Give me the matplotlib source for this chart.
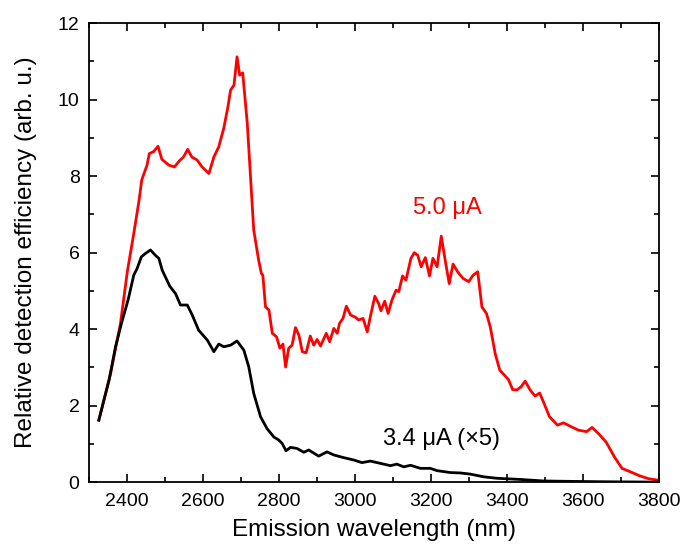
import matplotlib
matplotlib.use('Agg')
import matplotlib.pyplot as plt
from matplotlib.ticker import MultipleLocator

plt.rcParams['font.family'] = ['Liberation Sans', 'DejaVu Sans']

# 5.0 uA curve (red)
wl_red = [2325, 2356, 2382, 2400, 2417, 2431, 2438, 2452, 2458, 2469, 2481, 2491,
          2509, 2524, 2539, 2548, 2559, 2570, 2584, 2597, 2615, 2628, 2641, 2654,
          2665, 2672, 2681, 2689, 2696, 2704, 2716, 2724, 2733, 2746, 2753, 2757,
          2764, 2773, 2782, 2793, 2802, 2810, 2817, 2825, 2834, 2843, 2852, 2861,
          2871, 2882, 2891, 2900, 2909, 2924, 2933, 2944, 2953, 2959, 2968, 2977,
          2988, 3001, 3009, 3021, 3032, 3040, 3052, 3062, 3068, 3078, 3087, 3097,
          3108, 3115, 3125, 3134, 3147, 3156, 3165, 3174, 3185, 3196, 3205, 3216,
          3227, 3238, 3248, 3258, 3270, 3284, 3299, 3311, 3323, 3334, 3346, 3356,
          3369, 3381, 3393, 3404, 3415, 3426, 3437, 3448, 3461, 3474, 3486, 3496,
          3512, 3533, 3549, 3567, 3588, 3610, 3624, 3641, 3661, 3683, 3703, 3725,
          3751, 3773, 3799]
eff_red = [1.62, 2.84, 4.15, 5.5, 6.5, 7.37, 7.9, 8.29, 8.59, 8.64, 8.78, 8.44,
           8.29, 8.24, 8.42, 8.5, 8.7, 8.5, 8.42, 8.24, 8.07, 8.5, 8.77, 9.25,
           9.81, 10.25, 10.38, 11.12, 10.64, 10.7, 9.38, 8.07, 6.59, 5.8, 5.46, 5.41,
           4.58, 4.5, 3.89, 3.8, 3.5, 3.61, 3.01, 3.5, 3.58, 4.04, 3.84, 3.41,
           3.38, 3.82, 3.58, 3.73, 3.56, 3.89, 3.67, 4.02, 3.89, 4.15, 4.28, 4.6,
           4.37, 4.31, 4.24, 4.28, 3.93, 4.32, 4.86, 4.67, 4.48, 4.73, 4.41, 4.76,
           5.02, 4.98, 5.39, 5.28, 5.85, 6.0, 5.93, 5.63, 5.87, 5.39, 5.85, 5.63,
           6.43, 5.76, 5.19, 5.7, 5.5, 5.33, 5.24, 5.41, 5.5, 4.58, 4.41, 4.06,
           3.36, 2.93, 2.8, 2.68, 2.42, 2.41, 2.49, 2.64, 2.41, 2.25, 2.33, 2.1,
           1.71, 1.49, 1.55, 1.46, 1.36, 1.32, 1.43, 1.27, 1.05, 0.66, 0.36, 0.27,
           0.16, 0.09, 0.05]

# 3.4 uA curve (black, x5)
wl_blk = [2325, 2352, 2369, 2387, 2402, 2417, 2426, 2437, 2448, 2461, 2474, 2483,
          2492, 2512, 2527, 2540, 2558, 2571, 2588, 2611, 2628, 2641, 2654, 2672,
          2689, 2707, 2720, 2733, 2751, 2768, 2786, 2799, 2808, 2818, 2830, 2847,
          2865, 2878, 2904, 2926, 2944, 2970, 2996, 3018, 3040, 3067, 3093, 3110,
          3128, 3146, 3172, 3198, 3216, 3251, 3277, 3303, 3338, 3374, 3435, 3496,
          3566, 3650, 3800]
eff_blk = [1.62, 2.67, 3.54, 4.24, 4.76, 5.41, 5.59, 5.89, 5.98, 6.07, 5.93, 5.85,
           5.54, 5.12, 4.93, 4.63, 4.63, 4.37, 3.97, 3.71, 3.41, 3.61, 3.54, 3.58,
           3.69, 3.45, 3.01, 2.32, 1.71, 1.4, 1.18, 1.1, 1.01, 0.82, 0.91, 0.88,
           0.78, 0.84, 0.68, 0.79, 0.71, 0.64, 0.58, 0.51, 0.55, 0.49, 0.43, 0.47,
           0.4, 0.44, 0.36, 0.36, 0.3, 0.25, 0.24, 0.21, 0.14, 0.1, 0.07, 0.03,
           0.02, 0.01, 0.0]

fig = plt.figure(figsize=(6.82, 5.51), dpi=100)
ax = fig.add_axes([0.131, 0.125, 0.835, 0.833])

ax.plot(wl_red, eff_red, color='#ff0000', lw=2.0)
ax.plot(wl_blk, eff_blk, color='black', lw=2.0)

ax.text(3243, 7.16, '5.0 μA', color='#ff0000', fontsize=17, ha='center', va='center')
ax.text(3227, 1.12, '3.4 μA (×5)', color='black', fontsize=17, ha='center', va='center')

ax.set_xlim(2300, 3800)
ax.set_ylim(0, 12)
ax.xaxis.set_major_locator(MultipleLocator(200))
ax.xaxis.set_minor_locator(MultipleLocator(100))
ax.yaxis.set_major_locator(MultipleLocator(2))
ax.yaxis.set_minor_locator(MultipleLocator(1))
ax.tick_params(which='both', direction='in', top=True, right=True, width=1.2, labelsize=14)
ax.tick_params(which='major', length=6)
ax.tick_params(which='minor', length=3.5)
ax.tick_params(axis='x', which='both', pad=8)
ax.tick_params(axis='y', which='both', pad=7)
for s in ax.spines.values():
    s.set_linewidth(1.3)

ax.set_xlabel('Emission wavelength (nm)', fontsize=17.5, labelpad=6)
ax.set_ylabel('Relative detection efficiency (arb. u.)', fontsize=17.5, labelpad=15)

fig.savefig('out.png', dpi=100)
